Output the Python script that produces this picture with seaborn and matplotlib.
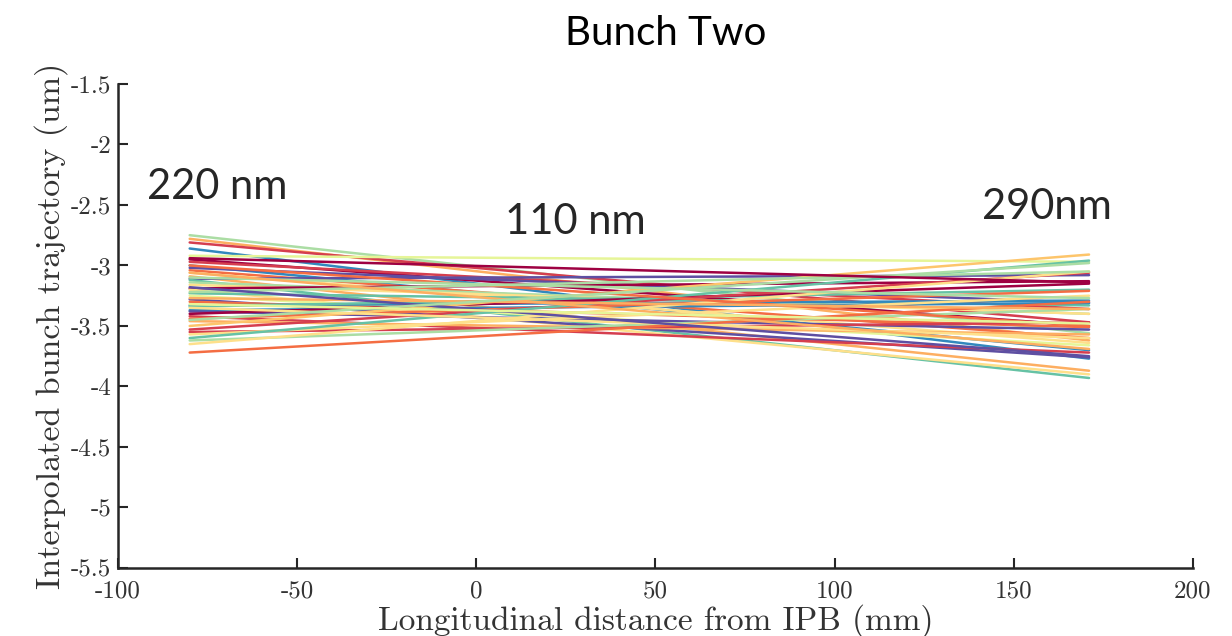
import matplotlib
matplotlib.use("Agg")
import matplotlib.pyplot as plt
import seaborn as sns
import pandas as pd

# Interpolated trajectory endpoints (um) at the two ends of the fit window
z_ends = [-80, 171]
y_start = [-2.75, -2.78, -2.81, -2.86, -2.92, -2.95, -2.97, -3.00, -3.02, -3.04,
           -3.06, -3.09, -3.11, -3.12, -3.14, -3.16, -3.19, -3.20, -3.23, -3.25,
           -3.28, -3.30, -3.33, -3.34, -3.37, -3.38, -3.40, -3.42, -3.44, -3.46,
           -3.50, -3.53, -3.55, -3.57, -3.60, -3.62, -3.65, -3.72, -3.00, -3.10,
           -3.22, -3.27, -3.35, -3.18, -3.06, -3.45, -2.94, -3.32]
y_end = [-3.56, -3.62, -3.47, -3.77, -2.97, -3.50, -3.36, -3.70, -3.31, -3.60,
         -3.64, -3.87, -3.08, -3.93, -3.40, -3.40, -3.13, -3.90, -3.33, -3.66,
         -3.76, -3.51, -3.29, -3.20, -3.31, -3.53, -3.15, -3.72, -3.21, -3.57,
         -2.91, -3.06, -3.47, -3.25, -2.96, -3.36, -3.05, -3.30, -3.50, -3.27,
         -3.05, -3.36, -3.60, -3.75, -3.69, -2.98, -3.14, -3.48]

# Spectral colours for each trajectory
line_colors = ["#abdda4", "#fdae61", "#d53e4f", "#3288bd", "#e6f598", "#9e0142",
               "#d53e4f", "#3288bd", "#5e4fa2", "#f46d43", "#fee08b", "#fdae61",
               "#5e4fa2", "#66c2a5", "#abdda4", "#fee08b", "#9e0142", "#fee08b",
               "#66c2a5", "#e6f598", "#5e4fa2", "#f46d43", "#3288bd", "#66c2a5",
               "#3288bd", "#5e4fa2", "#9e0142", "#d53e4f", "#f46d43", "#fdae61",
               "#fdc56b", "#d53e4f", "#d53e4f", "#fee08b", "#66c2a5", "#abdda4",
               "#fee08b", "#f46d43", "#f46d43", "#abdda4", "#abdda4", "#fdae61",
               "#fee08b", "#5e4fa2", "#fdae61", "#abdda4", "#9e0142", "#e6f598"]

x_ticks = [-100, -50, 0, 50, 100, 150, 200]
y_ticks = [-5.5, -5, -4.5, -4, -3.5, -3, -2.5, -2, -1.5]

rows = []
for i, (a, b) in enumerate(zip(y_start, y_end)):
    rows.append({"z": z_ends[0], "y": a, "bunch": i})
    rows.append({"z": z_ends[1], "y": b, "bunch": i})
df = pd.DataFrame(rows)

sns.set_style("ticks")
plt.rcParams["font.family"] = ["cmr10", "DejaVu Serif"]
plt.rcParams["axes.unicode_minus"] = False
plt.rcParams["axes.formatter.use_mathtext"] = True

fig = plt.figure(figsize=(12.32, 6.36), dpi=100)
ax = fig.add_axes([0.0958, 0.107, 0.8725, 0.761])

sns.lineplot(data=df, x="z", y="y", hue="bunch", palette=line_colors,
             legend=False, linewidth=1.8, ax=ax, estimator=None, sort=False)

ax.set_xlim(-100, 200)
ax.set_ylim(-5.5, -1.5)
ax.set_xticks(x_ticks)
ax.set_xticklabels([str(t) for t in x_ticks])
ax.set_yticks(y_ticks)
ax.set_yticklabels([("%g" % t) for t in y_ticks])
ax.tick_params(direction="in", length=7, width=1.5, colors="#262626",
               labelsize=18, labelcolor="#333333")
ax.tick_params(axis="x", pad=9)
ax.tick_params(axis="y", pad=5)

for s in ["top", "right"]:
    ax.spines[s].set_visible(False)
for s in ["left", "bottom"]:
    ax.spines[s].set_linewidth(1.8)
    ax.spines[s].set_color("#262626")

ax.set_xlabel("Longitudinal distance from IPB (mm)", fontsize=24, color="#333333",
              labelpad=1)
ax.set_ylabel("Interpolated bunch trajectory (um)", fontsize=24.5, color="#333333",
              labelpad=2)

sans = ["Lato", "DejaVu Sans"]
fig.text(0.54, 0.948, "Bunch Two", ha="center", va="center", fontsize=29,
         family=sans, color="black")
ax.text(-92, -2.35, "220 nm", ha="left", va="center", fontsize=30, family=sans)
ax.text(8, -2.64, "110 nm", ha="left", va="center", fontsize=30, family=sans)
ax.text(141, -2.52, "290nm", ha="left", va="center", fontsize=30, family=sans)

fig.savefig("out.png", dpi=100)
